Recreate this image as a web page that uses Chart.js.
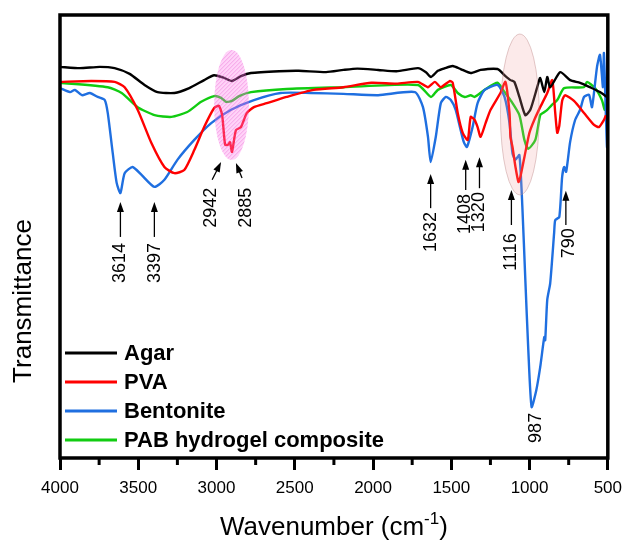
<!DOCTYPE html>
<html>
<head>
<meta charset="utf-8">
<script src="https://cdn.jsdelivr.net/npm/chart.js@4.4.1/dist/chart.umd.min.js"></script>
<style>
  html, body { margin: 0; padding: 0; background: #fff; }
  #wrap { width: 630px; height: 543px; }
</style>
</head>
<body>
<div id="wrap"><canvas id="ftirChart" width="630" height="543"></canvas></div>
<script>
// FTIR spectra, [wavenumber cm-1, transmittance a.u.]
const agarPoints = [
  [4000,88.3],[3873,88],[3746,88.3],[3651,88],[3555,86.7],[3460,84.2],[3377,82.6],[3269,82.4],
  [3174,83.5],[3079,85.3],[3015,86.4],[2952,85.8],[2901,85.1],[2844,86.2],[2780,86.9],[2600,87.3],
  [2475,87.4],[2300,87.1],[2189,87.6],[2100,87.9],[1967,87.6],[1850,87.3],[1713,88],[1662,87.1],
  [1630,86],[1586,87.4],[1541,88],[1491,88.5],[1440,87.8],[1376,86.9],[1313,87.6],[1205,87.8],
  [1160,86.4],[1122,85.3],[1097,84.9],[1065,81.5],[1027,77.4],[995,78.6],[951,83.7],[932,85.8],
  [906,82.6],[887,86],[868,83.7],[804,87.1],[741,85.3],[677,84.7],[614,83.7],[550,82.6],[506,81.5]
];
const pvaPoints = [
  [4000,84.9],[3800,85.1],[3651,84.9],[3587,83.7],[3504,78.6],[3416,71.1],[3333,65.7],[3269,64.3],
  [3206,65],[3142,69.5],[3079,74.7],[3015,79],[2984,79.5],[2964,77.4],[2945,70.7],[2926,70.7],
  [2914,71.3],[2901,69.1],[2876,74],[2844,74.7],[2806,77.9],[2761,79.2],[2679,80.1],[2552,81.5],
  [2380,83.1],[2189,83.7],[2011,84.7],[1850,84.5],[1713,84.9],[1649,83.7],[1605,84.9],[1567,83.7],
  [1510,85.1],[1491,84.7],[1459,77.9],[1427,73.4],[1395,71.8],[1376,77],[1351,76.3],[1332,74.7],
  [1313,72.5],[1281,75.6],[1249,78.6],[1186,82.4],[1154,84.9],[1128,77.9],[1122,72.5],[1109,70.2],
  [1090,65.7],[1071,62.3],[1059,63.4],[1033,67.9],[1001,73.4],[970,76.3],[932,79.2],[887,82.4],
  [855,85.3],[836,77.9],[823,73.4],[810,75],[792,80.6],[773,81.9],[716,80.6],[652,77.9],
  [588,75.2],[557,74.7],[525,76.3],[512,77.4]
];
const bentonitePoints = [
  [4000,83.5],[3936,82.6],[3905,83.1],[3860,81.9],[3809,82.4],[3759,81.5],[3714,80.8],[3695,77.9],
  [3663,68.8],[3638,62.1],[3614,59.8],[3587,64.3],[3536,65.7],[3479,63.9],[3397,61.2],[3333,62.8],
  [3250,67.3],[3142,71.8],[3034,75.6],[2907,78.6],[2761,80.8],[2590,82.4],[2399,82.4],[2189,82.2],
  [1967,81.9],[1732,82.6],[1681,79.2],[1649,72.5],[1632,66.8],[1599,72.5],[1567,80.1],[1535,81.5],
  [1503,80.8],[1472,78.6],[1440,74],[1420,71.3],[1400,70.2],[1364,74.7],[1332,80.1],[1287,83.1],
  [1205,84.2],[1160,81.5],[1128,75.6],[1109,68.8],[1090,67.3],[1065,68.4],[1046,56.7],[1027,40.2],
  [1008,24.4],[987,11.5],[957,15.3],[932,20.5],[906,27.3],[900,26.6],[887,35.7],[868,39.5],
  [843,50.8],[836,53.7],[810,54.4],[792,63.4],[779,65.7],[766,64.6],[741,71.3],[709,76.3],
  [677,78.6],[652,81.5],[620,82],[601,79.2],[569,88.3],[550,91],[531,83.7],[525,91.4],
  [512,77],[505,70.2],[500,92.8]
];
const pabPoints = [
  [4000,84.7],[3695,83.7],[3606,82.4],[3504,79.2],[3396,77.4],[3288,77],[3187,78.1],[3098,80.4],
  [3015,81.7],[2971,81.3],[2939,80.4],[2901,80.6],[2856,81.7],[2780,82.6],[2552,83.3],[2189,83.7],
  [1713,84.2],[1630,81.5],[1586,83.1],[1503,84.2],[1459,82.4],[1414,81.5],[1376,81.9],[1351,81.5],
  [1287,83.1],[1205,84.7],[1160,82.6],[1122,80.8],[1065,77.4],[1033,71.8],[1008,69.8],[963,71.8],
  [932,77.4],[910,78],[887,78.6],[860,79.6],[823,80.8],[779,83.5],[652,83.7],[633,84.9],
  [582,83.5],[538,80.8],[519,78.6],[500,83.7]
];
const seriesNames = ['Agar', 'PVA', 'Bentonite', 'PAB hydrogel composite'];
const seriesColors = ['#000000', '#ff0000', '#1f6fe0', '#11cc11'];
const xTicks = [4000, 3500, 3000, 2500, 2000, 1500, 1000, 500];
const xMinorTicks = [3750, 3250, 2750, 2250, 1750, 1250, 750];

// peak labels: wavenumber text
const peakLabels = ['3614', '3397', '2942', '2885', '1632', '1408', '1320', '1116', '790', '987'];

// where the arrows and labels go (wavenumber, transmittance)
const arrowSpots = [
  { tail: [3614, 49.9], tip: [3614, 57.8], text: [3619, 44] },
  { tail: [3397, 49.9], tip: [3397, 57.8], text: [3396, 44] },
  { tail: [3028, 62.8], tip: [2971, 66.8], text: [3034, 56.5] },
  { tail: [2837, 63.2], tip: [2876, 66.6], text: [2812, 56.5] },
  { tail: [1632, 56.4], tip: [1632, 64.1], text: [1632, 51] },
  { tail: [1408, 60.5], tip: [1408, 67.3], text: [1415, 55.1] },
  { tail: [1320, 60.9], tip: [1320, 67.9], text: [1320, 55.5] },
  { tail: [1116, 52.6], tip: [1116, 60.5], text: [1116, 46.5] },
  { tail: [768, 52.6], tip: [768, 60.3], text: [750, 48.5] },
  { tail: null, tip: null, text: [960, 6.8] }
];
const ellipses = [
  { w: [3015, 2793], v: [92.1, 67.3], fill: 'rgba(255,120,235,0.33)', hatch: 'rgba(225,70,200,0.45)' },
  { w: [1186, 938], v: [95.7, 59.4], fill: 'rgba(240,160,160,0.22)', stroke: 'rgba(190,140,140,0.45)' }
];

const toXY = pts => pts.map(p => ({ x: p[0], y: p[1] }));
const allPoints = [agarPoints, pvaPoints, bentonitePoints, pabPoints];

const decor = {
  id: 'decor',
  afterDatasetsDraw(chart) {
    const ctx = chart.ctx;
    const a = chart.chartArea;
    const x = chart.scales.x, y = chart.scales.y;

    // highlighted regions
    ellipses.forEach(e => {
      const x1 = x.getPixelForValue(e.w[0]), x2 = x.getPixelForValue(e.w[1]);
      const y1 = y.getPixelForValue(e.v[0]), y2 = y.getPixelForValue(e.v[1]);
      const cx = (x1 + x2) / 2, cy = (y1 + y2) / 2;
      const rx = Math.abs(x2 - x1) / 2, ry = Math.abs(y2 - y1) / 2;
      ctx.save();
      ctx.beginPath();
      ctx.ellipse(cx, cy, rx, ry, 0, 0, Math.PI * 2);
      ctx.fillStyle = e.fill;
      ctx.fill();
      if (e.stroke) {
        ctx.strokeStyle = e.stroke;
        ctx.lineWidth = 1;
        ctx.stroke();
      }
      if (e.hatch) {
        ctx.clip();
        ctx.strokeStyle = e.hatch;
        ctx.lineWidth = 0.8;
        for (let k = -2 * ry; k < 2 * rx + 2 * ry; k += 4) {
          ctx.beginPath();
          ctx.moveTo(cx - rx + k - 2 * ry, cy + ry);
          ctx.lineTo(cx - rx + k, cy - ry);
          ctx.stroke();
        }
      }
      ctx.restore();
    });

    // arrows + rotated labels
    ctx.save();
    ctx.strokeStyle = '#000';
    ctx.fillStyle = '#000';
    ctx.lineWidth = 1.3;
    arrowSpots.forEach((s, i) => {
      if (s.tail) {
        const tx = x.getPixelForValue(s.tail[0]), ty = y.getPixelForValue(s.tail[1]);
        const hx = x.getPixelForValue(s.tip[0]), hy = y.getPixelForValue(s.tip[1]);
        const ang = Math.atan2(hy - ty, hx - tx);
        ctx.beginPath();
        ctx.moveTo(tx, ty);
        ctx.lineTo(hx - Math.cos(ang) * 6, hy - Math.sin(ang) * 6);
        ctx.stroke();
        ctx.beginPath();
        ctx.moveTo(hx, hy);
        ctx.lineTo(hx - Math.cos(ang) * 10 + Math.sin(ang) * 3.5, hy - Math.sin(ang) * 10 - Math.cos(ang) * 3.5);
        ctx.lineTo(hx - Math.cos(ang) * 10 - Math.sin(ang) * 3.5, hy - Math.sin(ang) * 10 + Math.cos(ang) * 3.5);
        ctx.closePath();
        ctx.fill();
      }
      const lx = x.getPixelForValue(s.text[0]), ly = y.getPixelForValue(s.text[1]);
      ctx.save();
      ctx.translate(lx, ly);
      ctx.rotate(-Math.PI / 2);
      ctx.font = '18px "Liberation Sans", Arial, sans-serif';
      ctx.textAlign = 'center';
      ctx.textBaseline = 'middle';
      ctx.fillText(peakLabels[i], 0, 0);
      ctx.restore();
    });
    ctx.restore();

    // legend inside plot, lower left
    ctx.save();
    ctx.font = 'bold 22px "Liberation Sans", Arial, sans-serif';
    ctx.textBaseline = 'middle';
    seriesNames.forEach((name, i) => {
      const ly = a.top + 338 + i * 29;
      ctx.strokeStyle = seriesColors[i];
      ctx.lineWidth = 3;
      ctx.beginPath();
      ctx.moveTo(a.left + 5, ly);
      ctx.lineTo(a.left + 57, ly);
      ctx.stroke();
      ctx.fillStyle = '#000';
      ctx.fillText(name, a.left + 64, ly + 1);
    });
    ctx.restore();

    // frame and minor ticks
    ctx.save();
    ctx.strokeStyle = '#000';
    ctx.lineWidth = 3.5;
    ctx.strokeRect(a.left, a.top, a.right - a.left, a.bottom - a.top);
    ctx.lineWidth = 3;
    xMinorTicks.forEach(w => {
      const px = x.getPixelForValue(w);
      ctx.beginPath();
      ctx.moveTo(px, a.bottom);
      ctx.lineTo(px, a.bottom + 7);
      ctx.stroke();
    });
    ctx.restore();
  },
  afterDraw(chart) {
    const ctx = chart.ctx;
    const a = chart.chartArea;
    ctx.save();
    ctx.fillStyle = '#000';
    // y title
    ctx.font = '26px "Liberation Sans", Arial, sans-serif';
    ctx.textAlign = 'center';
    ctx.textBaseline = 'middle';
    ctx.translate(24, 301);
    ctx.rotate(-Math.PI / 2);
    ctx.fillText('Transmittance', 0, 0);
    ctx.restore();

    // x title with superscript
    ctx.save();
    ctx.fillStyle = '#000';
    ctx.textBaseline = 'alphabetic';
    ctx.textAlign = 'left';
    const big = '26px "Liberation Sans", Arial, sans-serif';
    const small = '17px "Liberation Sans", Arial, sans-serif';
    ctx.font = big;
    const w1 = ctx.measureText('Wavenumber (cm').width;
    const w3 = ctx.measureText(')').width;
    ctx.font = small;
    const w2 = ctx.measureText('-1').width;
    const cx = (a.left + a.right) / 2;
    let sx = cx - (w1 + w2 + w3) / 2;
    const base = 535;
    ctx.font = big;
    ctx.fillText('Wavenumber (cm', sx, base);
    ctx.font = small;
    ctx.fillText('-1', sx + w1, base - 11);
    ctx.font = big;
    ctx.fillText(')', sx + w1 + w2, base);
    ctx.restore();
  }
};

new Chart(document.getElementById('ftirChart').getContext('2d'), {
  type: 'line',
  data: {
    datasets: allPoints.map((pts, i) => ({
      label: seriesNames[i],
      data: toXY(pts),
      borderColor: seriesColors[i],
      backgroundColor: seriesColors[i],
      borderWidth: 2.4,
      pointRadius: 0,
      tension: 0.2,
      fill: false
    }))
  },
  options: {
    responsive: false,
    animation: false,
    layout: { padding: { left: 60, right: 19, top: 15, bottom: 0 } },
    plugins: {
      legend: { display: false },
      tooltip: { enabled: false }
    },
    scales: {
      x: {
        type: 'linear',
        reverse: true,
        min: 500,
        max: 4000,
        afterBuildTicks: scale => { scale.ticks = xTicks.map(v => ({ value: v })); },
        afterFit: scale => { scale.height = 85; },
        border: { display: false },
        grid: {
          drawOnChartArea: false,
          drawTicks: true,
          tickLength: 12,
          tickWidth: 3,
          tickColor: '#000'
        },
        ticks: {
          color: '#000',
          padding: 8,
          maxRotation: 0,
          callback: v => String(v),
          font: { family: '"Liberation Sans", Arial, sans-serif', size: 17 }
        }
      },
      y: {
        display: false,
        min: 0,
        max: 100
      }
    }
  },
  plugins: [decor]
});
</script>
</body>
</html>
